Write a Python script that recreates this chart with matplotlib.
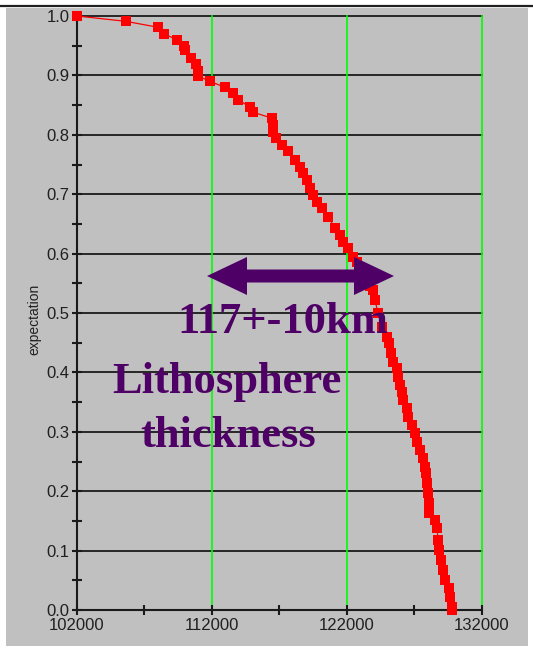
import matplotlib
matplotlib.use('Agg')
import matplotlib.pyplot as plt
from matplotlib.patches import Rectangle, Polygon
from matplotlib.lines import Line2D
from matplotlib.transforms import IdentityTransform

# lithosphere thickness (m) vs. cumulative expectation
thickness = [102000, 105630, 108000, 108440, 109410, 109930, 110000, 110440, 110810, 110960,
             110960, 111850, 112960, 113560, 113930, 114810, 115040, 116440, 116520, 116520,
             116740, 117190, 117630, 118150, 118520, 118740, 119040, 119260, 119480, 119780,
             120150, 120590, 121110, 121480, 121700, 122070, 122440, 122740, 122960, 123190,
             123410, 123700, 123930, 124070, 124300, 124590, 124960, 125110, 125260, 125410,
             125700, 125780, 125930, 126070, 126150, 126440, 126520, 126810, 127040, 127190,
             127410, 127630, 127780, 127850, 127930, 128000, 128070, 128070, 128520, 128670,
             128740, 128810, 128960, 129110, 129260, 129560, 129630, 129780, 129780]
expectation = [1.000, 0.991, 0.981, 0.970, 0.960, 0.950, 0.943, 0.929, 0.919, 0.907,
               0.899, 0.890, 0.880, 0.870, 0.859, 0.847, 0.838, 0.828, 0.816, 0.805,
               0.794, 0.783, 0.772, 0.758, 0.746, 0.735, 0.724, 0.710, 0.699, 0.687,
               0.676, 0.662, 0.643, 0.631, 0.620, 0.609, 0.594, 0.586, 0.572, 0.561,
               0.551, 0.545, 0.539, 0.522, 0.500, 0.477, 0.460, 0.449, 0.433, 0.418,
               0.407, 0.392, 0.379, 0.367, 0.354, 0.340, 0.325, 0.311, 0.298, 0.283,
               0.269, 0.256, 0.241, 0.230, 0.214, 0.197, 0.180, 0.163, 0.152, 0.138,
               0.118, 0.101, 0.084, 0.067, 0.051, 0.037, 0.022, 0.005, 0.000]

y_ticks = [0.0, 0.1, 0.2, 0.3, 0.4, 0.5, 0.6, 0.7, 0.8, 0.9, 1.0]
x_ticks = [102000, 112000, 122000, 132000]
x_minor = [107000, 117000, 127000]
y_minor = [0.05, 0.15, 0.25, 0.35, 0.45, 0.55, 0.65, 0.75, 0.85, 0.95]
green_lines = [112000, 122000, 132000]

GRAY = '#C0C0C0'
PURPLE = '#4E0066'

W, H = 533, 648
fig = plt.figure(figsize=(W / 100, H / 100), dpi=100)
fig.patch.set_facecolor('white')

# gray panel and top rule
fig.patches.append(Rectangle((6 / W, 2 / H), 522 / W, 638 / H, transform=fig.transFigure,
                             facecolor=GRAY, edgecolor='none', zorder=-10))
fig.lines.append(Line2D([0, 1], [1 - 6 / H, 1 - 6 / H], transform=fig.transFigure,
                        color='#202020', lw=1.6, zorder=-5))

ax = fig.add_axes([77 / W, 38 / H, 405 / W, 594 / H])
ax.set_zorder(1)
ax.patch.set_visible(False)
ax.set_xlim(102000, 132000)
ax.set_ylim(0, 1)

for y in y_ticks[1:]:
    ax.axhline(y, color='#1a1a1a', lw=1.3, zorder=1, clip_on=False)
for x in green_lines:
    ax.axvline(x, color='#00FF00', lw=1.2, zorder=1, clip_on=False)

ax.plot(thickness, expectation, '-', color='red', lw=0.9, zorder=3, clip_on=False)
ax.plot(thickness, expectation, 's', color='red', ms=7.4, mec='red', mew=0,
        zorder=4, clip_on=False)

for s in ['top', 'right']:
    ax.spines[s].set_visible(False)
for s in ['left', 'bottom']:
    ax.spines[s].set_color('#1a1a1a')
    ax.spines[s].set_linewidth(1.5)

ax.set_yticks(y_ticks)
ax.set_yticklabels([f'{v:.1f}' for v in y_ticks])
ax.set_yticks(y_minor, minor=True)
ax.set_xticks(x_ticks)
ax.set_xticklabels([str(v) for v in x_ticks])
ax.set_xticks(x_minor, minor=True)
ax.tick_params(which='both', direction='inout', length=7, width=1.5, color='#1a1a1a')
ax.tick_params(axis='y', which='major', pad=2)
ax.tick_params(axis='x', which='major', pad=2)
for lab in ax.get_xticklabels() + ax.get_yticklabels():
    lab.set_fontfamily('Liberation Sans')
    lab.set_fontsize(12)
    lab.set_color('#202020')

ax.set_ylabel('expectation', fontfamily='Liberation Sans', fontsize=10, color='#202020')
ax.yaxis.set_label_coords(-36 / 405, 0.49)

# double-headed arrow (figure pixels, origin bottom-left)
cy = H - 276
x_l, x_r, head, half_h, half_s = 207, 394, 40, 19, 6.5
arrow = Polygon([(x_l, cy), (x_l + head, cy + half_h), (x_l + head, cy + half_s),
                 (x_r - head, cy + half_s), (x_r - head, cy + half_h), (x_r, cy),
                 (x_r - head, cy - half_h), (x_r - head, cy - half_s),
                 (x_l + head, cy - half_s), (x_l + head, cy - half_h)],
                closed=True, facecolor=PURPLE, edgecolor='none',
                transform=IdentityTransform(), zorder=10)
fig.patches.append(arrow)

txt = dict(fontfamily='Liberation Serif', fontweight='bold', fontsize=32, color=PURPLE,
           ha='left', va='baseline', zorder=11)
fig.text(177 / W, 1 - 333 / H, '117+-10km', **txt)
fig.text(112 / W, 1 - 393 / H, 'Lithosphere', **txt)
fig.text(140 / W, 1 - 447 / H, 'thickness', **txt)

fig.savefig('out.png', dpi=100, facecolor='white')
